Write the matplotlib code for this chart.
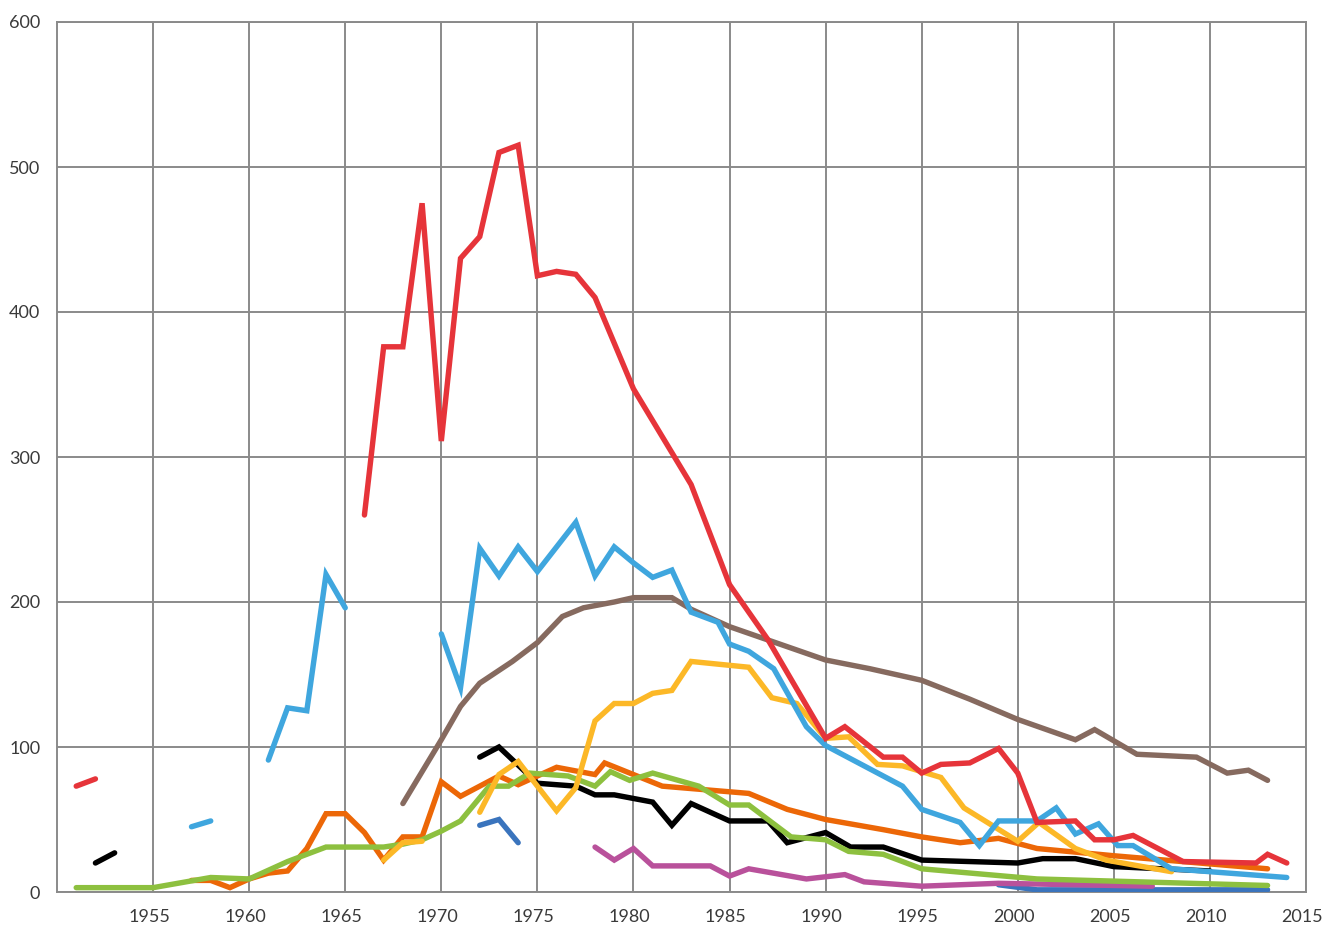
import numpy as np
import matplotlib
matplotlib.use("Agg")
import matplotlib.pyplot as plt
import matplotlib.transforms as mtransforms

nan = np.nan

# Series data (year, value); nan breaks a line into separate pieces
red_years = [1951, 1952, nan, 1966, 1967, 1968, 1969, 1970, 1971, 1972, 1973, 1974, 1975, 1976, 1977,
             1978, 1980, 1983, 1985, 1987, 1990, 1991, 1993, 1994, 1995, 1996, 1997.5, 1999, 2000,
             2001, 2003, 2004, 2005, 2006, 2008.6, 2012.4, 2013, 2014]
red_values = [73, 78, nan, 260, 376, 376, 475, 311, 437, 452, 510, 515, 425, 428, 426,
              410, 347, 281, 212, 174, 106, 114, 93, 93, 82, 88, 89, 99, 82,
              48, 49, 36, 36, 39, 21, 20, 26, 20]

blue_years = [1957, 1958, nan, 1961, 1962, 1963, 1964, 1965, nan, 1970, 1971, 1972, 1973, 1974, 1975,
              1977, 1978, 1979, 1980, 1981, 1982, 1983, 1984.4, 1985, 1986, 1987.3, 1989, 1990,
              1994, 1995, 1997, 1998, 1999, 2001, 2002, 2003, 2004.2, 2005.2, 2006, 2008, 2010, 2014]
blue_values = [45, 49, nan, 91, 127, 125, 219, 196, nan, 178, 141, 237, 218, 238, 221,
               255, 218, 238, 227, 217, 222, 193, 186, 171, 166, 154, 114, 101,
               73, 57, 48, 32, 49, 49, 58, 40, 47, 32, 32, 16, 14, 10]

brown_years = [1968, 1970, 1971, 1972, 1973.7, 1975, 1976.3, 1977.4, 1979, 1980, 1982, 1983, 1985,
               1990, 1992.3, 1995, 1997.5, 2000, 2003, 2004, 2006.2, 2009.3, 2010.9, 2012, 2013]
brown_values = [61, 105, 128, 144, 159, 172, 190, 196, 200, 203, 203, 195, 183,
                160, 154, 146, 133, 119, 105, 112, 95, 93, 82, 84, 77]

yellow_years = [1967, 1968, 1969, nan, 1972, 1973, 1974, 1976, 1977, 1978, 1979, 1980, 1981, 1982,
                1983, 1986, 1987.2, 1988.5, 1990, 1991.2, 1992.7, 1994, 1995, 1996, 1997.2, 2000,
                2001.1, 2003, 2004.6, 2008]
yellow_values = [22, 34, 35, nan, 55, 81, 90, 56, 72, 118, 130, 130, 137, 139,
                 159, 155, 134, 130, 106, 107, 88, 87, 83, 79, 58, 35,
                 48, 30, 22, 14]

orange_years = [1957, 1958, 1959, 1960, 1961, 1962, 1963, 1964, 1965, 1966, 1967, 1968, 1969, 1970,
                1971, 1973, 1974, 1976, 1978, 1978.5, 1980, 1981.5, 1986, 1988, 1990, 1993, 1995,
                1997, 1999, 2001, 2005, 2013]
orange_values = [8, 8, 3, 9, 13, 14.5, 30, 54, 54, 41, 22, 38, 38, 76,
                 66, 80, 74, 86, 81, 89, 81, 73, 68, 57, 50, 43, 38,
                 34, 37, 30, 25, 16]

black_years = [1952, 1953, nan, 1972, 1973, 1975, 1977, 1978, 1979, 1981, 1982, 1983, 1985, 1987,
               1988, 1990, 1991.3, 1993, 1995, 2000, 2001.3, 2003, 2005, 2010]
black_values = [20, 27, nan, 93, 100, 75, 73, 67, 67, 62, 46, 61, 49, 49,
                34, 41, 31, 31, 22, 20, 23, 23, 17.5, 14.5]

green_years = [1951, 1955, 1958, 1960, 1961, 1962, 1963, 1964, 1967, 1968, 1969, 1970, 1971, 1972.5,
               1973.5, 1974.6, 1976.6, 1978, 1978.8, 1979.8, 1981, 1983.4, 1985, 1986, 1988.2,
               1990, 1991.2, 1993, 1995, 2001, 2013]
green_values = [3, 3, 10, 9, 15, 21, 26, 31, 31, 33, 36, 42, 49, 73,
                73, 82, 80, 73, 83, 77, 82, 73, 60, 60, 38,
                36, 28, 26, 16, 9, 4.5]

purple_years = [1978, 1979, 1980, 1981, 1984, 1985, 1986, 1989, 1991, 1992, 1995, 1999, 2007]
purple_values = [31, 22, 30, 18, 18, 11, 16, 9, 12, 7, 4, 6, 4]

darkblue_years = [1972, 1973, 1974, nan, 1999, 2001, 2013]
darkblue_values = [46, 50, 34, nan, 5, 1.5, 1.5]

x_ticks = [1955, 1960, 1965, 1970, 1975, 1980, 1985, 1990, 1995, 2000, 2005, 2010, 2015]
y_ticks = [0, 100, 200, 300, 400, 500, 600]

plt.rcParams["font.family"] = ["Lato", "DejaVu Sans"]

fig = plt.figure(figsize=(13.23, 9.30), dpi=100)
ax = fig.add_axes([57 / 1323, 38 / 930, 1249 / 1323, 870 / 930])

# bottom to top drawing order
series = [
    (darkblue_years, darkblue_values, "#3a74bd"),
    (purple_years, purple_values, "#b9519b"),
    (black_years, black_values, "#000000"),
    (orange_years, orange_values, "#ec6707"),
    (green_years, green_values, "#8dc03f"),
    (yellow_years, yellow_values, "#fcb827"),
    (brown_years, brown_values, "#866a5f"),
    (blue_years, blue_values, "#3fa6de"),
    (red_years, red_values, "#e6343a"),
]
for years, values, color in series:
    ax.plot(years, values, color=color, lw=3.9, solid_capstyle="round",
            solid_joinstyle="miter", zorder=3)

ax.set_xlim(1950, 2015)
ax.set_ylim(0, 600)
ax.set_xticks(x_ticks)
ax.set_yticks(y_ticks)
ax.grid(True, color="#8a8a8a", lw=1.4, zorder=1)
for side in ax.spines.values():
    side.set_color("#8a8a8a")
    side.set_linewidth(1.4)
ax.tick_params(length=0, labelsize=13, colors="#3a3a3a")
ax.tick_params(axis="x", pad=12)
ax.tick_params(axis="y", pad=12)

# nudge the year labels a little left, as in the original
shift = mtransforms.ScaledTranslation(-4 / 100, 0, fig.dpi_scale_trans)
for lab in ax.get_xticklabels():
    lab.set_transform(lab.get_transform() + shift)

plt.savefig("out.png", dpi=100)
